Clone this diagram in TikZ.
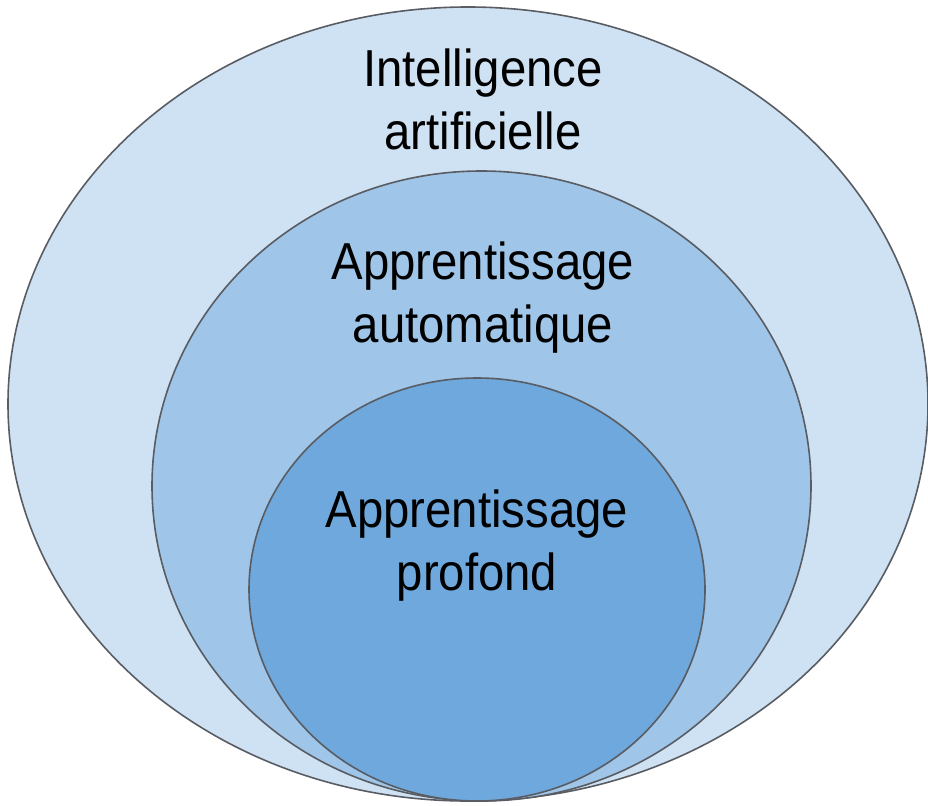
\documentclass[tikz,border=0pt]{standalone}
\usepackage{fontspec}
\setmainfont{Liberation Sans}[FakeStretch=0.91]
\usetikzlibrary{shapes.geometric}
\definecolor{iacol}{HTML}{CFE2F3}
\definecolor{aacol}{HTML}{9FC5E8}
\definecolor{apcol}{HTML}{6FA8DC}
\definecolor{bordcol}{HTML}{595C62}
\begin{document}
\begin{tikzpicture}[x=1pt, y=-1pt,
        zone/.style={ellipse, draw=bordcol, line width=1.6pt, inner sep=0pt},
        label/.style={align=center, anchor=base, font=\fontsize{52}{63}\selectfont}]
    \useasboundingbox (0,0) rectangle (928,805);
    \node[zone, fill=iacol, minimum width=920, minimum height=794] (ia) at (468,404) {};
    \node[zone, fill=aacol, minimum width=659, minimum height=630] (aa) at (481.5,486) {};
    \node[zone, fill=apcol, minimum width=456, minimum height=423] (ap) at (477,589.5) {};
    \node[label] (tia) at (483,150) {Intelligence\\artificielle};
    \node[label] (taa) at (483,342) {Apprentissage\\automatique};
    \node[label] (tap) at (477,590) {Apprentissage\\profond};
\end{tikzpicture}
\end{document}
